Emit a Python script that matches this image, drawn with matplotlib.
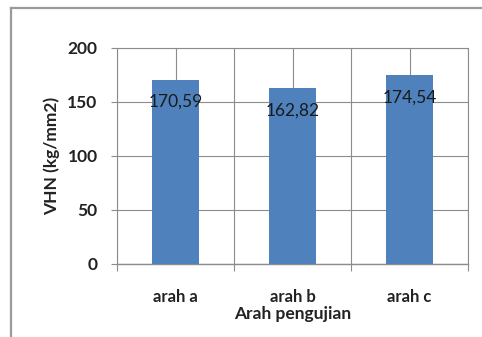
import matplotlib
matplotlib.use("Agg")
import matplotlib.pyplot as plt
from matplotlib.lines import Line2D

categories = ["arah a", "arah b", "arah c"]
values = [170.59, 162.82, 174.54]
yticks = [0, 50, 100, 150, 200]

plt.rcParams['font.family'] = ['Lato', 'DejaVu Sans']

fig = plt.figure(figsize=(4.82, 3.37), dpi=100)
fig.patch.set_facecolor("white")

# outer chart frame (runs off the right and bottom edges)
W, H = 482, 337
fx0, fy0 = 11 / W, 1 - 8 / H
fig.add_artist(Line2D([fx0, fx0], [fy0, -0.05], transform=fig.transFigure,
                      color="#9a9a9a", lw=1.6))
fig.add_artist(Line2D([fx0, 1.05], [fy0, fy0], transform=fig.transFigure,
                      color="#9a9a9a", lw=1.6))

ax = fig.add_axes([117 / W, 1 - 264 / H, (468 - 117) / W, (264 - 48) / H])

x = list(range(len(categories)))
ax.bar(x, values, width=0.4, color="#4F81BD", zorder=3)

grid_c = "#8c8c8c"
txt_c = "#222222"
ax.set_xlim(-0.5, len(categories) - 0.5)
ax.set_ylim(0, 200)
ax.set_yticks(yticks)
ax.set_yticklabels([str(v) for v in yticks], fontsize=12.5, fontweight="bold",
                   color=txt_c)
ax.set_xticks(x)
ax.set_xticklabels(categories, fontsize=12, fontweight="bold", color=txt_c)
ax.set_xticks([i - 0.5 for i in range(len(categories) + 1)], minor=True)

ax.tick_params(axis="x", which="major", length=0, pad=18)
ax.tick_params(axis="x", which="minor", length=5, color=grid_c, width=0.8)
ax.tick_params(axis="y", length=4, color=grid_c, width=0.8, pad=10)

ax.grid(True, axis="y", color=grid_c, lw=0.8, zorder=0)
ax.grid(True, axis="x", which="both", color=grid_c, lw=0.8, zorder=0)
ax.set_axisbelow(True)

for s in ax.spines.values():
    s.set_color(grid_c)
    s.set_linewidth(0.8)
ax.spines["bottom"].set_linewidth(1.0)

for xi, v in zip(x, values):
    ax.annotate(f"{v:.2f}".replace(".", ","), (xi, v), xytext=(0, -22),
                textcoords="offset pixels",
                ha="center", va="center", fontsize=12.5, color="#1a1a1a",
                zorder=4)

ax.set_ylabel("VHN (kg/mm2)", fontsize=12.5, fontweight="bold", color=txt_c,
              labelpad=5)
ax.set_xlabel("Arah pengujian", fontsize=12.5, fontweight="bold", color=txt_c,
              labelpad=1)

fig.savefig("out.png", dpi=100, facecolor="white")
